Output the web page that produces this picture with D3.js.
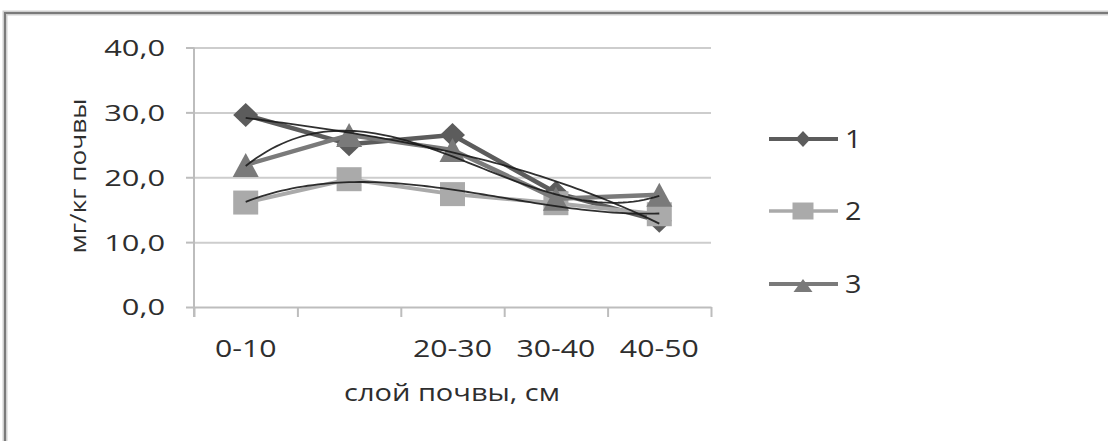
<!DOCTYPE html>
<html>
<head>
<meta charset="utf-8">
<script src="https://cdn.jsdelivr.net/npm/d3@7"></script>
<style>
  body { margin: 0; background: #fff; }
  svg { display: block; font-family: "Open Sans", "DejaVu Sans", sans-serif; }
</style>
</head>
<body>
<svg id="chart" width="1108" height="441"></svg>
<script>
// Soil layers (cm) and measured values, mg/kg of soil
const categories = ["0-10", "10-20", "20-30", "30-40", "40-50"];
const tickLabels = ["0-10", "", "20-30", "30-40", "40-50"];
const yTicks = [0, 10, 20, 30, 40];
const seriesNames = ["1", "2", "3"];
const series1 = [29.6, 25.1, 26.5, 17.6, 13.3];
const series2 = [16.1, 19.7, 17.4, 16.0, 14.3];
const series3 = [21.9, 26.5, 24.2, 16.7, 17.3];
const yTitle = "мг/кг почвы";
const xTitle = "слой почвы, см";

const textColor = "#2e2e2e";

const seriesList = [
  { name: seriesNames[0], values: series1, color: "#5c5c5c", marker: "diamond", width: 4.5 },
  { name: seriesNames[1], values: series2, color: "#aaaaaa", marker: "square", width: 4 },
  { name: seriesNames[2], values: series3, color: "#7a7a7a", marker: "triangle", width: 4.5 }
];

const svg = d3.select("#chart");

// outer frame (only top and left edges fall inside the view)
svg.append("path").attr("d", "M5,441V13H1108").attr("fill", "none")
  .attr("stroke", "#cfcfcf").attr("stroke-width", 5);
svg.append("path").attr("d", "M5,441V13H1108").attr("fill", "none")
  .attr("stroke", "#7a7a7a").attr("stroke-width", 2);

const plot = { left: 194, right: 711, top: 47.5, bottom: 307 };
const x = d3.scaleBand().domain(categories).range([plot.left, plot.right]);
const xEdge = d3.scaleLinear().domain([0, categories.length]).range([plot.left, plot.right]);
const y = d3.scaleLinear().domain([0, 40]).range([plot.bottom, plot.top]);
const cx = c => x(c) + x.bandwidth() / 2;
const xIdx = d3.scaleLinear().domain([0, categories.length - 1])
  .range([cx(categories[0]), cx(categories[categories.length - 1])]);

function stretch(sel, f) {
  sel.each(function () {
    const w = this.getComputedTextLength();
    if (w > 0) {
      this.setAttribute("textLength", w * f);
      this.setAttribute("lengthAdjust", "spacingAndGlyphs");
    }
  });
}

// horizontal gridlines
const grid = svg.append("g").attr("transform", `translate(${plot.left},0)`)
  .call(d3.axisLeft(y).tickValues(yTicks.filter(v => v > 0)).tickSize(-(plot.right - plot.left)).tickFormat(""));
grid.select(".domain").remove();
grid.selectAll("line").attr("stroke", "#cdcdcd").attr("stroke-width", 2);

// y axis
const yAxis = svg.append("g").attr("transform", `translate(${plot.left},0)`)
  .call(d3.axisLeft(y).tickValues(yTicks).tickSize(8).tickSizeOuter(0).tickPadding(21)
    .tickFormat(d => d3.format(".1f")(d).replace(".", ",")));
yAxis.select(".domain").attr("stroke", "#bdbdbd").attr("stroke-width", 2)
  .attr("d", `M0,${plot.top}V${plot.bottom + 10}`);
yAxis.selectAll("line").attr("stroke", "#bdbdbd").attr("stroke-width", 2);
yAxis.selectAll("text").attr("font-size", 22).attr("fill", textColor)
  .attr("font-family", "'Open Sans', sans-serif").attr("dy", "0.36em");
stretch(yAxis.selectAll("text"), 1.4);

// x axis line with tick marks at category edges
const xAxis = svg.append("g").attr("transform", `translate(0,${plot.bottom})`)
  .call(d3.axisBottom(xEdge).tickValues(d3.range(categories.length + 1)).tickSize(10).tickSizeOuter(0).tickFormat(""));
xAxis.select(".domain").attr("stroke", "#bdbdbd").attr("stroke-width", 2);
xAxis.selectAll("line").attr("stroke", "#bdbdbd").attr("stroke-width", 2);

// category labels
const xLabels = svg.append("g").selectAll("text").data(categories).join("text")
  .attr("x", d => cx(d)).attr("y", 357)
  .attr("text-anchor", "middle").attr("font-size", 24).attr("fill", textColor)
  .text((d, i) => tickLabels[i]);
stretch(xLabels, 1.26);

// axis titles
svg.append("text").attr("x", 452).attr("y", 401).attr("text-anchor", "middle")
  .attr("font-size", 23).attr("fill", textColor)
  .attr("textLength", 216).attr("lengthAdjust", "spacingAndGlyphs").text(xTitle);
svg.append("text").attr("transform", "translate(86,176) rotate(-90)").attr("text-anchor", "middle")
  .attr("font-size", 21).attr("fill", textColor)
  .attr("textLength", 155).attr("lengthAdjust", "spacingAndGlyphs").text(yTitle);

// marker shapes
function markerPath(type, w, h) {
  if (type === "diamond") return `M0,${-h / 2}L${w / 2},0L0,${h / 2}L${-w / 2},0Z`;
  if (type === "square") return `M${-w / 2},${-h / 2}H${w / 2}V${h / 2}H${-w / 2}Z`;
  return `M0,${-h / 2}L${w / 2},${h / 2}H${-w / 2}Z`;
}
const markerSize = { diamond: [25, 24], square: [25, 24], triangle: [26, 24] };

const line = d3.line().x((d, i) => xIdx(i)).y(d => y(d));

seriesList.forEach(s => {
  const g = svg.append("g");
  g.append("path").attr("d", line(s.values)).attr("fill", "none")
    .attr("stroke", s.color).attr("stroke-width", s.width).attr("stroke-linejoin", "round");
  const [mw, mh] = markerSize[s.marker];
  g.selectAll("path.m").data(s.values).join("path").attr("class", "m")
    .attr("transform", (d, i) => `translate(${xIdx(i)},${y(d)})`)
    .attr("d", markerPath(s.marker, mw, mh)).attr("fill", s.color);
});

// third-order polynomial trend of each series (least squares on index 1..5)
function polyFit(vals, order) {
  const n = order + 1;
  const A = [], b = [];
  for (let r = 0; r < n; r++) {
    A.push(new Array(n).fill(0));
    b.push(0);
  }
  vals.forEach((v, i) => {
    const t = i + 1;
    for (let r = 0; r < n; r++) {
      for (let c = 0; c < n; c++) A[r][c] += Math.pow(t, r + c);
      b[r] += v * Math.pow(t, r);
    }
  });
  for (let p = 0; p < n; p++) {
    let best = p;
    for (let r = p + 1; r < n; r++) if (Math.abs(A[r][p]) > Math.abs(A[best][p])) best = r;
    [A[p], A[best]] = [A[best], A[p]];
    [b[p], b[best]] = [b[best], b[p]];
    for (let r = p + 1; r < n; r++) {
      const f = A[r][p] / A[p][p];
      for (let c = p; c < n; c++) A[r][c] -= f * A[p][c];
      b[r] -= f * b[p];
    }
  }
  const coef = new Array(n).fill(0);
  for (let r = n - 1; r >= 0; r--) {
    let s = b[r];
    for (let c = r + 1; c < n; c++) s -= A[r][c] * coef[c];
    coef[r] = s / A[r][r];
  }
  return t => coef.reduce((acc, c, k) => acc + c * Math.pow(t, k), 0);
}

const trendLine = d3.line().x(d => xIdx(d[0])).y(d => y(d[1]));
seriesList.forEach(s => {
  const f = polyFit(s.values, 3);
  const pts = d3.range(0, s.values.length - 1 + 1e-9, 0.05).map(i => [i, f(i + 1)]);
  svg.append("path").attr("d", trendLine(pts)).attr("fill", "none")
    .attr("stroke", "#1a1a1a").attr("stroke-width", 1.8).attr("stroke-opacity", 0.9);
});

// legend
const legendY = [139, 211, 284];
const legendMarker = { diamond: [15, 16], square: [21, 17], triangle: [19, 13] };
seriesList.forEach((s, i) => {
  const g = svg.append("g").attr("transform", `translate(0,${legendY[i]})`);
  g.append("line").attr("x1", 769).attr("x2", 838).attr("y1", 0).attr("y2", 0)
    .attr("stroke", s.color).attr("stroke-width", s.width - 0.5);
  const [mw, mh] = legendMarker[s.marker];
  g.append("path").attr("transform", `translate(803,${s.marker === "triangle" ? 1.5 : 0})`)
    .attr("d", markerPath(s.marker, mw, mh)).attr("fill", s.color);
  const t = g.append("text").attr("x", 845).attr("y", 9).attr("font-size", 25)
    .attr("fill", textColor).text(s.name);
  stretch(t, 1.15);
});
</script>
</body>
</html>
